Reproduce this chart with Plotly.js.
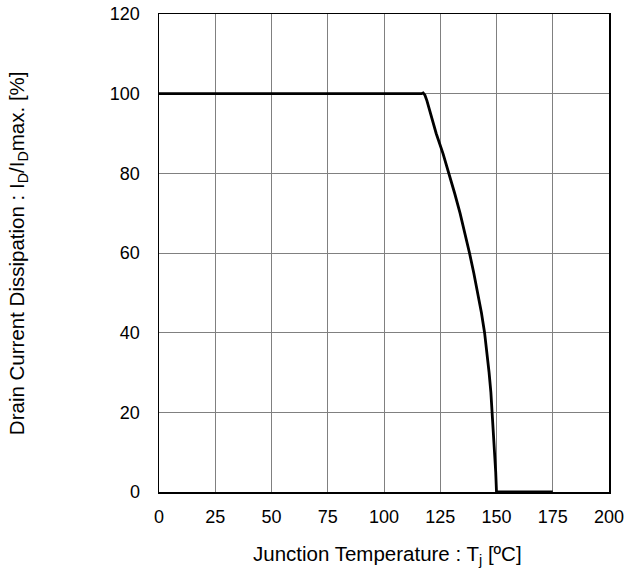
<!DOCTYPE html>
<html>
<head>
<meta charset="utf-8">
<script src="https://cdn.plot.ly/plotly-3.0.1.min.js"></script>
<style>html,body{margin:0;padding:0;background:#fff;}#chart{width:629px;height:578px;}</style>
</head>
<body>
<div id="chart"></div>
<script>
// Junction temperature [°C]
const tempC = [0, 116.6, 117.4, 118.2, 119.1, 120.6, 123.2, 126.2, 128.9, 131.4, 133.8, 136.0, 138.0, 139.9, 141.7, 143.3, 144.7, 145.8, 146.7, 147.5, 148.1, 148.7, 149.2, 149.65, 150, 175];
// Drain current dissipation [%]
const currentPct = [100, 100, 100.2, 99.6, 98.2, 95, 90, 85, 80, 75, 70, 65, 60, 55, 50, 45, 40, 35, 30, 25, 20, 15, 10, 5, 0, 0];
const xTicks = [0, 25, 50, 75, 100, 125, 150, 175, 200];
const yTicks = [0, 20, 40, 60, 80, 100, 120];
const xTitle = 'Junction Temperature : T<sub>j</sub> [ºC]';
const yTitle = 'Drain Current Dissipation : I<sub>D</sub>/I<sub>D</sub>max. [%]';

const font = {family: 'Liberation Sans, Arial, sans-serif', size: 18, color: '#000'};
const titleFont = {family: 'Liberation Sans, Arial, sans-serif', size: 20.5, color: '#000'};

Plotly.newPlot('chart', [{
  x: tempC,
  y: currentPct,
  type: 'scatter',
  mode: 'lines',
  line: {color: '#000', width: 2.8},
  hoverinfo: 'skip'
}], {
  width: 629, height: 578,
  margin: {l: 159, r: 20, t: 14, b: 86},
  paper_bgcolor: '#fff', plot_bgcolor: '#fff',
  showlegend: false,
  font: font,
  xaxis: {
    range: [0, 200], tickvals: xTicks, ticktext: xTicks.map(String),
    showgrid: true, gridcolor: '#808080', gridwidth: 1,
    showline: true, linecolor: '#000', linewidth: 1.5, mirror: true,
    zeroline: false, ticks: '', ticklabelstandoff: 8,
    tickfont: font, automargin: false
  },
  yaxis: {
    range: [0, 120], tickvals: yTicks, ticktext: yTicks.map(String),
    showgrid: true, gridcolor: '#808080', gridwidth: 1,
    showline: true, linecolor: '#000', linewidth: 1.5, mirror: true,
    zeroline: false, ticks: '', ticklabelstandoff: 14,
    tickfont: font, automargin: false
  },
  annotations: [
    {text: xTitle, xref: 'paper', yref: 'paper', x: 0.507, y: -0.132,
     xanchor: 'center', yanchor: 'middle', showarrow: false, font: titleFont},
    {text: yTitle, xref: 'paper', yref: 'paper', x: -0.313, y: 0.5,
     xanchor: 'center', yanchor: 'middle', textangle: -90, showarrow: false, font: titleFont}
  ]
}, {staticPlot: true, displayModeBar: false});
</script>
</body>
</html>
